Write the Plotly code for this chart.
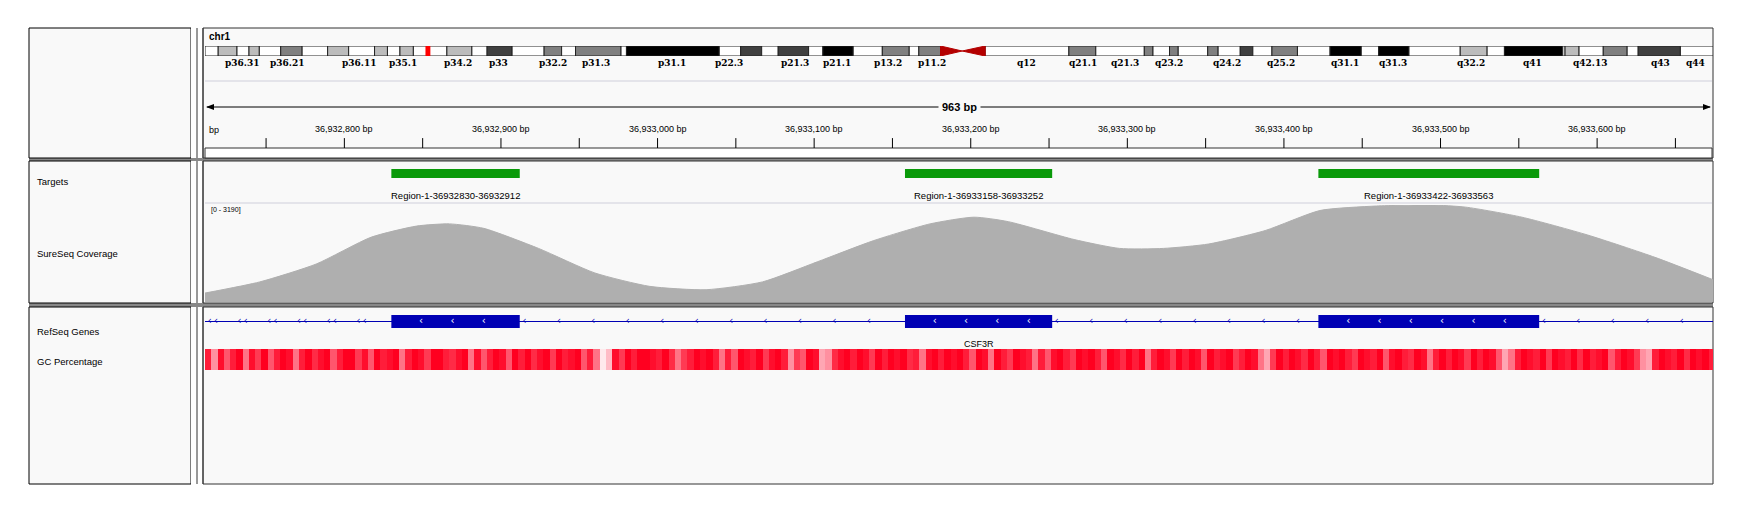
import numpy as np
import plotly.graph_objects as go

W, H = 1749, 516
OFF = 8  # browser body margin
def px(x): return (x - OFF) / W
def py(y): return 1 - (y - OFF) / H

# ---------------- data ----------------
view_start, view_end = 36932711, 36933674
band_edges = [0, 13.2, 32, 44, 54.3, 75.7, 97.1, 122.6, 143.6, 169.5, 182.4, 194.9, 208.3, 241.8, 266.8,
              282, 307, 339, 356.5, 370.4, 415.9, 421.3, 514.1, 535.5, 556.5, 573, 603.4, 617.7, 648,
              677.1, 704, 713.6, 735.3]
band_cols = ["w", "l", "w", "l", "w", "g", "w", "l", "w", "l", "w", "l", "w", "l", "w",
             "d", "w", "g", "w", "g", "w", "k", "w", "d", "w", "d", "w", "k", "w",
             "g", "w", "g"]
qband_edges = [779.9, 863.6, 890.5, 939, 947.7, 964.2, 972.9, 1002.4, 1012.8, 1034.9, 1047.5, 1066.6,
               1092.1, 1124.7, 1155.9, 1173.3, 1203.6, 1254.8, 1281.7, 1299, 1357.3, 1359.6, 1373.6,
               1397.8, 1421.7, 1432.7, 1474.9, 1507.5]
qband_cols = ["w", "g", "w", "g", "w", "g", "w", "g", "w", "d", "w", "g", "w", "k", "w", "k", "w",
              "l", "w", "k", "w", "l", "w", "g", "w", "d", "w"]
cen_start, cen_mid, cen_end = 735.3, 756.9, 779.9
ideo_len = 1507.5
marker_pos = (220.4, 225.3)
band_labels = ["p36.31", "p36.21", "p36.11", "p35.1", "p34.2", "p33", "p32.2", "p31.3", "p31.1", "p22.3",
               "p21.3", "p21.1", "p13.2", "p11.2", "q12", "q21.1", "q21.3", "q23.2", "q24.2", "q25.2",
               "q31.1", "q31.3", "q32.2", "q41", "q42.13", "q43", "q44"]
band_label_pos = [36.7, 82.4, 153.7, 198.3, 252.9, 293, 347.5, 391, 466.7, 523.6, 589.3, 631.6, 682.9,
                  726.3, 821, 877.8, 920, 963.6, 1021.5, 1076, 1139.6, 1187.5, 1265.5, 1326.8, 1384.7,
                  1454.9, 1490.5]

ruler_major = [36932800, 36932900, 36933000, 36933100, 36933200, 36933300, 36933400, 36933500, 36933600]
ruler_minor = [36932750, 36932850, 36932950, 36933050, 36933150, 36933250, 36933350, 36933450,
               36933550, 36933650]

target_start = [36932830, 36933158, 36933422]
target_end = [36932912, 36933252, 36933563]
target_names = ["Region-1-36932830-36932912", "Region-1-36933158-36933252", "Region-1-36933422-36933563"]

cov_pos = [36932711, 36932746, 36932782, 36932817, 36932846, 36932867, 36932889, 36932924, 36932960,
           36932995, 36933031, 36933067, 36933102, 36933138, 36933174, 36933202, 36933224, 36933266,
           36933295, 36933323, 36933352, 36933388, 36933423, 36933459, 36933494, 36933516, 36933552,
           36933594, 36933637, 36933674]
cov_val = [294, 661, 1248, 2129, 2496, 2569, 2422, 1762, 954, 514, 404, 661, 1321, 2019, 2569, 2789,
           2642, 2055, 1762, 1762, 1908, 2349, 3009, 3156, 3190, 3120, 2789, 2202, 1468, 734]
cov_max = 3190

exon_start = [36932830, 36933158, 36933422]
exon_end = [36932912, 36933252, 36933563]
gene_name = "CSF3R"

gc_bin = 4
gc_val = [0.9, 0.5, 0.95, 0.7, 0.9, 1, 0.6, 0.95, 0.8, 1, 0.7, 0.9, 1, 0.95, 0.6, 0.9, 1, 0.85, 0.95, 1,
          0.7, 0.9, 1, 1, 0.8, 0.95, 0.7, 1, 0.9, 0.95, 1, 0.6, 0.9, 1, 0.95, 0.8, 1, 1, 0.9, 0.85,
          0.95, 1, 0.6, 0.95, 0.7, 0.9, 1, 0.95, 0.7, 1, 0.9, 1, 0.85, 0.95, 1, 0.8, 1, 0.9, 0.95, 1,
          0.7, 0.9, 0.6, 0.1, 0.3, 0.95, 0.8, 1, 0.9, 1, 1, 0.95, 0.9, 1, 0.85, 0.6, 0.8, 0.9, 1, 0.95,
          1, 0.9, 0.6, 0.9, 0.7, 1, 0.95, 0.9, 1, 0.8, 0.95, 1, 0.9, 0.5, 0.8, 0.7, 1, 0.95, 0.4, 0.5,
          0.85, 0.95, 1, 0.9, 1, 0.95, 0.8, 1, 0.9, 1, 0.95, 1, 0.85, 0.9, 0.6, 0.95, 1, 0.9, 1, 0.95,
          1, 0.9, 0.7, 1, 0.95, 0.6, 1, 0.9, 0.8, 1, 0.95, 0.9, 0.6, 0.9, 0.7, 0.95, 1, 0.9, 0.8, 1,
          0.95, 1, 0.9, 0.7, 1, 0.95, 0.85, 1, 0.9, 1, 0.6, 0.9, 1, 0.95, 0.8, 1, 0.9, 1, 0.95, 0.7,
          1, 0.9, 0.95, 1, 0.8, 0.9, 1, 0.95, 0.6, 0.4, 0.8, 1, 0.9, 1, 0.95, 0.85, 1, 0.9, 0.7, 1,
          0.95, 1, 0.9, 0.8, 1, 0.95, 0.9, 1, 0.7, 0.95, 1, 0.9, 0.85, 1, 0.95, 0.6, 0.9, 1, 0.9, 1,
          0.95, 0.8, 1, 0.9, 1, 0.95, 0.7, 0.4, 0.6, 0.9, 1, 0.95, 0.9, 1, 0.8, 1, 0.95, 0.9, 1, 0.85,
          1, 0.9, 0.95, 1, 0.7, 0.9, 1, 0.95, 0.8, 0.5, 0.4, 0.9, 1, 0.95, 0.9, 1, 0.85, 1, 0.95, 1, 0.9]

# ---------------- layout ----------------
DX0, DX1 = 205, 1713
dom_x = [px(DX0), px(DX1)]
col_map = {"w": "#ffffff", "l": "#bcbcbc", "g": "#808080", "d": "#404040", "k": "#000000"}
FONT = "Liberation Sans"

fig = go.Figure()
def ydom(top, bot):
    return [py(bot), py(top)]

fig.update_layout(
    width=W, height=H, margin=dict(l=0, r=0, t=0, b=0),
    paper_bgcolor="white", plot_bgcolor="rgba(0,0,0,0)", showlegend=False, barmode="overlay",
    xaxis=dict(domain=dom_x, range=[view_start, view_end], visible=False, fixedrange=True),
    xaxis2=dict(domain=dom_x, range=[0, ideo_len], visible=False, anchor="y"),
    yaxis=dict(domain=ydom(46, 56), range=[-0.5, 0.5], visible=False, anchor="x2"),
    yaxis2=dict(domain=ydom(130, 148), range=[0, 1], visible=False, anchor="x"),
    yaxis3=dict(domain=ydom(169, 178), range=[-0.5, 0.5], visible=False, anchor="x"),
    yaxis4=dict(domain=ydom(205, 302), range=[0, cov_max], visible=False, anchor="x"),
    yaxis5=dict(domain=ydom(315, 328), range=[-0.5, 0.5], visible=False, anchor="x"),
    yaxis6=dict(domain=ydom(349, 370), range=[-0.5, 0.5], visible=False, anchor="x"),
)

shapes = []
ann = []
def add_ann(**kw):
    kw.setdefault("showarrow", False)
    kw.setdefault("yanchor", "middle")
    kw.setdefault("xanchor", "center")
    ann.append(kw)

bg = "#f9f9f9"
rows = [(28, 158), (161, 303), (307, 484)]
shapes.append(dict(type="rect", xref="paper", yref="paper", x0=px(29), x1=px(1713), y0=py(484), y1=py(28),
                   fillcolor="#888888", line=dict(width=0), layer="below"))
for t, b in rows:
    shapes.append(dict(type="rect", xref="paper", yref="paper", x0=px(29), x1=px(191), y0=py(b), y1=py(t),
                       fillcolor=bg, line=dict(color="black", width=1), layer="below"))
    shapes.append(dict(type="rect", xref="paper", yref="paper", x0=px(191), x1=px(203), y0=py(b), y1=py(t),
                       fillcolor="white", line=dict(width=0), layer="below"))
    shapes.append(dict(type="rect", xref="paper", yref="paper", x0=px(203), x1=px(1713), y0=py(b), y1=py(t),
                       fillcolor=bg, line=dict(color="#333333", width=1), layer="below"))
    for xx in (197, 203):
        shapes.append(dict(type="line", xref="paper", yref="paper", x0=px(xx), x1=px(xx), y0=py(b), y1=py(t),
                           line=dict(color="#333333", width=1), layer="below"))
for yy in (81, 203):
    shapes.append(dict(type="line", xref="paper", yref="paper", x0=px(205), x1=px(1712), y0=py(yy), y1=py(yy),
                       line=dict(color="#dcdce4", width=1.5), layer="below"))
shapes.append(dict(type="rect", xref="paper", yref="paper", x0=px(205), x1=px(1712), y0=py(158), y1=py(148),
                   fillcolor="white", line=dict(color="#333333", width=1), layer="below"))

# ideogram
starts = band_edges[:-1] + qband_edges[:-1]
ends = band_edges[1:] + qband_edges[1:]
cols = band_cols + qband_cols
fig.add_trace(go.Bar(orientation="h", base=starts, x=[e - s for s, e in zip(starts, ends)], y=[0] * len(starts),
                     width=1, marker=dict(color=[col_map[c] for c in cols], line=dict(color="#222222", width=1)),
                     xaxis="x2", yaxis="y", hoverinfo="skip"))
shapes.append(dict(type="path", xref="x2", yref="y",
                   path=f"M {cen_start} -0.5 L {cen_mid} 0 L {cen_start} 0.5 Z", fillcolor="#b40000",
                   line=dict(color="#b40000", width=1)))
shapes.append(dict(type="path", xref="x2", yref="y",
                   path=f"M {cen_end} -0.5 L {cen_mid} 0 L {cen_end} 0.5 Z", fillcolor="#b40000",
                   line=dict(color="#b40000", width=1)))
shapes.append(dict(type="rect", xref="x2", yref="y", x0=marker_pos[0], x1=marker_pos[1], y0=-0.75, y1=0.75,
                   fillcolor="#ff0000", line=dict(width=0)))
for lab, pos in zip(band_labels, band_label_pos):
    add_ann(text=f"<b>{lab}</b>", x=pos, y=py(63), xref="x2", yref="paper",
            font=dict(family="DejaVu Serif Condensed", size=10, color="black"))

add_ann(text="<b>chr1</b>", x=px(207), y=py(37), xref="paper", yref="paper", xanchor="left",
        font=dict(family=FONT, size=10, color="black"))
shapes.append(dict(type="line", xref="paper", yref="paper", x0=px(207), x1=px(1710), y0=py(107), y1=py(107),
                   line=dict(color="black", width=1)))
add_ann(text="<b>963 bp</b>", x=(px(DX0) + px(DX1)) / 2, y=py(107), xref="paper", yref="paper",
        bgcolor=bg, borderpad=3, font=dict(family=FONT, size=11, color="black"))
shapes.append(dict(type="path", xref="paper", yref="paper",
                   path=f"M {px(206)} {py(107)} L {px(214)} {py(104)} L {px(214)} {py(110)} Z",
                   fillcolor="black", line=dict(width=0)))
shapes.append(dict(type="path", xref="paper", yref="paper",
                   path=f"M {px(1711)} {py(107)} L {px(1703)} {py(104)} L {px(1703)} {py(110)} Z",
                   fillcolor="black", line=dict(width=0)))

for p in ruler_major + ruler_minor:
    shapes.append(dict(type="line", xref="x", yref="y2", x0=p, x1=p, y0=0, y1=0.55,
                       line=dict(color="black", width=1)))
for p in ruler_major:
    add_ann(text=f"{p:,} bp", x=p, y=py(129), xref="x", yref="paper",
            font=dict(family=FONT, size=9, color="black"))
add_ann(text="bp", x=px(207), y=py(130), xref="paper", yref="paper", xanchor="left",
        font=dict(family=FONT, size=9, color="black"))

# targets
fig.add_trace(go.Bar(orientation="h", base=target_start, x=[e - s for s, e in zip(target_start, target_end)],
                     y=[0] * 3, width=1, marker=dict(color="#0a9a0a", line=dict(width=0)),
                     xaxis="x", yaxis="y3", hoverinfo="skip"))
for s, e, n in zip(target_start, target_end, target_names):
    add_ann(text=n, x=(s + e) / 2, y=py(195), xref="x", yref="paper",
            font=dict(family=FONT, size=9.5, color="black"))

# coverage
fig.add_trace(go.Scatter(x=cov_pos, y=cov_val, mode="lines",
                         line=dict(color="#afafaf", width=1, shape="spline", smoothing=0.6),
                         fill="tozeroy", fillcolor="#afafaf", xaxis="x", yaxis="y4", hoverinfo="skip"))
add_ann(text=f"[0 - {cov_max}]", x=px(209), y=py(210), xref="paper", yref="paper", xanchor="left",
        font=dict(family=FONT, size=7, color="black"))

# genes
fig.add_trace(go.Scatter(x=[view_start, view_end], y=[0, 0], mode="lines", line=dict(color="#0000b4", width=1),
                         xaxis="x", yaxis="y5", hoverinfo="skip"))
fig.add_trace(go.Bar(orientation="h", base=exon_start, x=[e - s for s, e in zip(exon_start, exon_end)],
                     y=[0] * 3, width=1, marker=dict(color="#0000b4", line=dict(width=0)),
                     xaxis="x", yaxis="y5", hoverinfo="skip"))
intron_bounds = [view_start] + [v for pair in zip(exon_start, exon_end) for v in pair] + [view_end]
chev_out, chev_in = [], []
for i in range(0, len(intron_bounds), 2):
    a, b = intron_bounds[i], intron_bounds[i + 1]
    step = 19 if i == 0 else 22
    for p in np.arange(a + 3, b - 3, step):
        chev_out.append(p)
        if i == 0:
            chev_out.append(p + 4)
for s, e in zip(exon_start, exon_end):
    for p in np.arange(s + 19, e - 3, 20):
        chev_in.append(p)
fig.add_trace(go.Scatter(x=chev_out, y=[0] * len(chev_out), mode="text", text=["‹"] * len(chev_out),
                         textfont=dict(family="DejaVu Sans", size=10, color="#0000b4"),
                         xaxis="x", yaxis="y5", hoverinfo="skip"))
fig.add_trace(go.Scatter(x=chev_in, y=[0] * len(chev_in), mode="text", text=["‹"] * len(chev_in),
                         textfont=dict(family="DejaVu Sans", size=10, color="white"),
                         xaxis="x", yaxis="y5", hoverinfo="skip"))
add_ann(text=gene_name, x=(exon_start[1] + exon_end[1]) / 2, y=py(344), xref="x", yref="paper",
        font=dict(family=FONT, size=9, color="black"))

# gc
gc_x = [view_start + i * gc_bin for i in range(len(gc_val) + 1)]
fig.add_trace(go.Heatmap(x=gc_x, y=[-0.5, 0.5], z=[gc_val], zmin=0, zmax=1, showscale=False,
                         colorscale=[[0, "#ffffff"], [0.5, "#ff90a0"], [1, "#ff0020"]],
                         xaxis="x", yaxis="y6", hoverinfo="skip"))

for txt, yy in [("Targets", 182), ("SureSeq Coverage", 254), ("RefSeq Genes", 331), ("GC Percentage", 361)]:
    add_ann(text=txt, x=px(35), y=py(yy), xref="paper", yref="paper", xanchor="left",
            font=dict(family=FONT, size=9.5, color="black"))

fig.update_layout(shapes=shapes, annotations=ann)
fig.write_html("out.html")
